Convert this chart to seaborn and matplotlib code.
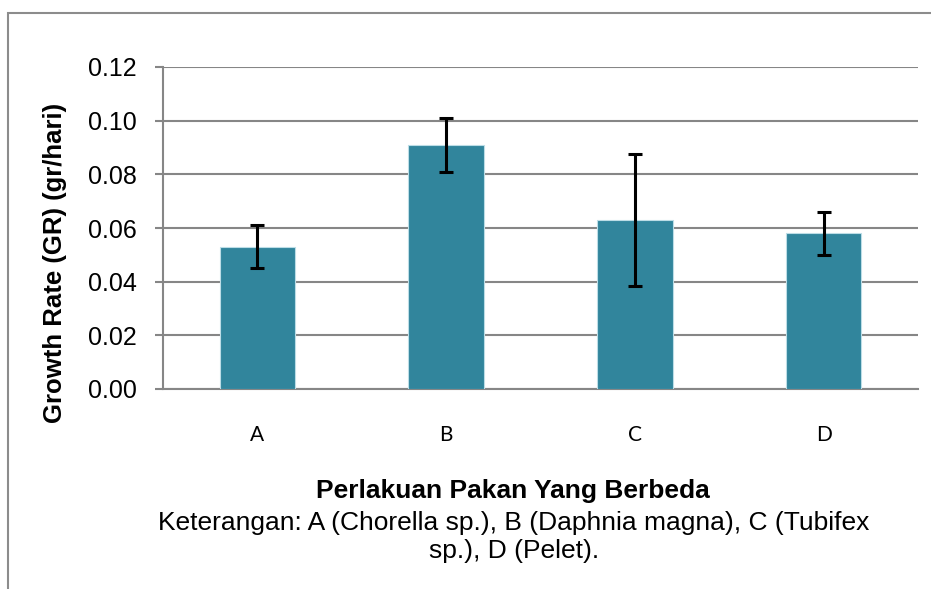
# grafik laju pertumbuhan (GR) per perlakuan pakan
import matplotlib.pyplot as plt
import matplotlib.patches as mpatches
import pandas as pd
import seaborn as sns

# data
perlakuan = ["A", "B", "C", "D"]
growth_rate = [0.053, 0.091, 0.063, 0.058]
sd = [0.008, 0.010, 0.0246, 0.008]
y_ticks = [0.00, 0.02, 0.04, 0.06, 0.08, 0.10, 0.12]

df = pd.DataFrame({"Perlakuan": perlakuan, "GR": growth_rate})

sns.set_style("white")
plt.rcParams["font.family"] = ["Liberation Sans", "DejaVu Sans"]
plt.rcParams["text.color"] = "black"

W, H = 931, 589
fig = plt.figure(figsize=(W / 100, H / 100), dpi=100)
ax = fig.add_axes([163 / W, 1 - 389 / H, (918 - 163) / W, (389 - 67) / H])

sns.barplot(data=df, x="Perlakuan", y="GR", color="#31859C", width=0.4,
            saturation=1, edgecolor="#BCDDE6", linewidth=0.8, ax=ax, zorder=3)
# error bar
ax.errorbar(range(len(perlakuan)), growth_rate, yerr=sd, fmt="none",
            ecolor="black", elinewidth=2.2, capsize=5, capthick=2.2, zorder=4)

ax.set_ylim(0, 0.12)
ax.set_xlim(-0.5, 3.5)
ax.set_yticks(y_ticks)
ax.set_yticklabels([f"{v:.2f}" for v in y_ticks], fontsize=18)
ax.set_axisbelow(True)
ax.yaxis.grid(True, color="#868686", linewidth=1.5)
ax.tick_params(axis="y", length=6, width=1.5, color="#868686", labelcolor="black",
               pad=13, left=True)
ax.tick_params(axis="x", length=0, pad=26, labelcolor="black")
for lab in ax.get_xticklabels():
    lab.set_fontfamily(["Lato", "DejaVu Sans"])
    lab.set_fontsize(15)

for s in ["top", "right"]:
    ax.spines[s].set_visible(False)
for s in ["left", "bottom"]:
    ax.spines[s].set_color("#868686")
    ax.spines[s].set_linewidth(1.5)

ax.set_xlabel("")
ax.set_ylabel("")

fig.text(55 / W, 1 - 263 / H, "Growth Rate (GR) (gr/hari)", rotation=90,
         ha="center", va="center", fontsize=18.5, fontweight="bold")
fig.text(513 / W, 1 - 491 / H, "Perlakuan Pakan Yang Berbeda",
         ha="center", va="center", fontsize=19, fontweight="bold")
fig.text(514 / W, 1 - 523 / H,
         "Keterangan: A (Chorella sp.), B (Daphnia magna), C (Tubifex",
         ha="center", va="center", fontsize=19)
fig.text(514 / W, 1 - 551 / H, "sp.), D (Pelet).",
         ha="center", va="center", fontsize=19)

# bingkai luar grafik
fig.add_artist(mpatches.Rectangle((8 / W, -0.1), 1.1, (1 - 13 / H) + 0.1,
                                  transform=fig.transFigure, fill=False,
                                  edgecolor="#8c8c8c", linewidth=1.5))

fig.savefig("out.png", dpi=100)
